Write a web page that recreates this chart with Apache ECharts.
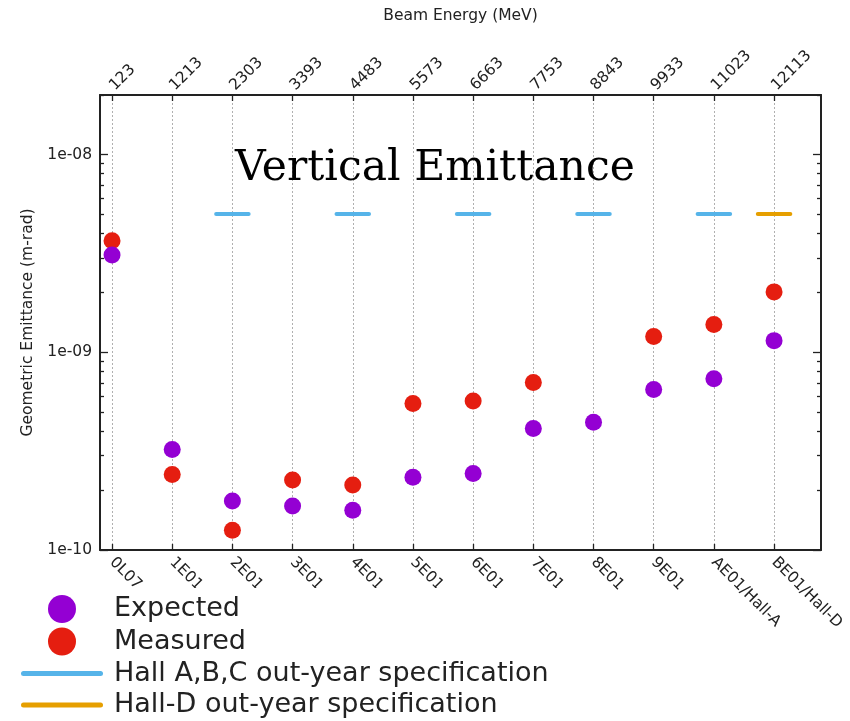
<!DOCTYPE html>
<html>
<head>
<meta charset="utf-8">
<title>Vertical Emittance</title>
<script src="https://cdn.jsdelivr.net/npm/echarts@6/dist/echarts.min.js"></script>
<style>
  html, body { margin: 0; padding: 0; background: #fff; }
  #chart { width: 850px; height: 721px; }
</style>
</head>
<body>
<div id="chart"></div>
<script>
// Stations along the machine (bottom axis) and the beam energy at each (top axis)
const stations = ['0L07', '1E01', '2E01', '3E01', '4E01', '5E01', '6E01', '7E01', '8E01', '9E01', 'AE01/Hall-A', 'BE01/Hall-D'];
const beamEnergyMeV = ['123', '1213', '2303', '3393', '4483', '5573', '6663', '7753', '8843', '9933', '11023', '12113'];

// Geometric emittance (m-rad) per station
const expected = [3.10e-9, 3.22e-10, 1.77e-10, 1.67e-10, 1.59e-10, 2.33e-10, 2.44e-10, 4.12e-10, 4.43e-10, 6.49e-10, 7.34e-10, 1.145e-9];
const measured = [3.66e-9, 2.41e-10, 1.26e-10, 2.26e-10, 2.13e-10, 5.50e-10, 5.67e-10, 7.04e-10, null, 1.20e-9, 1.38e-9, 2.02e-9];

// Out-year specification levels, drawn at the hall extraction stations
const specHallABCStations = [2, 4, 6, 8, 10];
const specHallABCValue = 5e-9;
const specHallDStations = [11];
const specHallDValue = 5e-9;

// Log-axis tick values
const yMajorTicks = [1e-10, 1e-9, 1e-8];
const yMinorTicks = [2e-10, 3e-10, 4e-10, 5e-10, 6e-10, 7e-10, 8e-10, 9e-10,
                     2e-9, 3e-9, 4e-9, 5e-9, 6e-9, 7e-9, 8e-9, 9e-9, 2e-8];

const stationIdx = stations.map((_, i) => i);

const INK = '#222';
const FONT = 'DejaVu Sans';
const COLORS = {
  expected: '#9400d3',
  measured: '#e51e10',
  hallABC: '#56b4e9',
  hallD: '#e69f00'
};

function sciLabel(v) {
  const e = Math.round(Math.log10(v));
  const s = String(Math.abs(e)).padStart(2, '0');
  return '1e' + (e < 0 ? '-' : '+') + s;
}

const xBase = {
  type: 'value', min: -0.2, max: 11.78, gridIndex: 0,
  axisLine: { show: true, onZero: false, lineStyle: { color: INK, width: 2 } },
  axisTick: { show: true, inside: true, length: 6, customValues: stationIdx, lineStyle: { color: INK, width: 1.3 } },
  splitLine: { show: false }
};

const yBase = {
  type: 'log', logBase: 10, min: 1e-10, max: 2e-8,
  splitLine: { show: false },
  minorTick: { show: false }
};

// Short horizontal spec segment centred on a station
function specRenderer(params, api) {
  const c = api.value(0);
  const v = api.value(1);
  const p1 = api.coord([c - 0.27, v]);
  const p2 = api.coord([c + 0.27, v]);
  return {
    type: 'line',
    shape: { x1: p1[0], y1: p1[1], x2: p2[0], y2: p2[1] },
    style: { stroke: api.visual('color'), lineWidth: 4, lineCap: 'round' }
  };
}

const linePath = 'path://M2.5,0 H79.5 A2.5,2.5 0 0 1 79.5,5 H2.5 A2.5,2.5 0 0 1 2.5,0 Z';

const option = {
  animation: false,
  backgroundColor: '#fff',
  textStyle: { fontFamily: FONT },
  title: {
    text: 'Vertical Emittance',
    left: 235, top: 147, padding: 0,
    textStyle: { fontFamily: 'DejaVu Serif', fontSize: 42.5, fontWeight: 'normal', color: '#000' }
  },
  legend: {
    orient: 'vertical',
    left: 0, top: 588,
    padding: [7, 10, 3, 21],
    backgroundColor: '#fff',
    itemWidth: 82, itemHeight: 28, itemGap: 4.5,
    selectedMode: false,
    textStyle: { fontFamily: FONT, fontSize: 27, color: INK, padding: [0, 0, 0, 6] },
    data: [
      { name: 'Expected', icon: 'circle' },
      { name: 'Measured', icon: 'circle' },
      { name: 'Hall A,B,C out-year specification', icon: linePath },
      { name: 'Hall-D out-year specification', icon: linePath }
    ]
  },
  grid: [
    { left: 100, right: 29, top: 95, bottom: 171 },
    { left: 100, right: 29, top: 95, bottom: 171 }
  ],
  xAxis: [
    {
      ...xBase, position: 'bottom',
      axisLabel: {
        customValues: stationIdx, rotate: -45, margin: 10,
        fontSize: 15.5, color: INK,
        formatter: v => stations[Math.round(v)]
      },
      splitLine: { show: true, lineStyle: { color: '#b0b0b0', width: 1, type: [2, 2] } }
    },
    {
      ...xBase, position: 'top',
      name: 'Beam Energy (MeV)', nameLocation: 'middle', nameGap: 71,
      nameTextStyle: { fontSize: 15.5, color: INK },
      axisLabel: {
        customValues: stationIdx, rotate: -45, margin: 7,
        fontSize: 15.5, color: INK,
        formatter: v => beamEnergyMeV[Math.round(v)]
      }
    },
    { type: 'value', min: -0.2, max: 11.78, gridIndex: 1, show: false }
  ],
  yAxis: [
    {
      ...yBase, gridIndex: 0, position: 'left',
      name: 'Geometric Emittance (m-rad)', nameLocation: 'middle', nameGap: 64, nameRotate: 90,
      nameTextStyle: { fontSize: 15.5, color: INK },
      axisLine: { show: true, onZero: false, lineStyle: { color: INK, width: 2 } },
      axisTick: { show: true, inside: true, length: 8, customValues: yMajorTicks, lineStyle: { color: INK, width: 1.3 } },
      axisLabel: { customValues: yMajorTicks, margin: 8, fontSize: 15.5, color: INK, formatter: sciLabel }
    },
    {
      ...yBase, gridIndex: 0, position: 'right',
      axisLine: { show: true, onZero: false, lineStyle: { color: INK, width: 2 } },
      axisTick: { show: true, inside: true, length: 8, customValues: yMajorTicks, lineStyle: { color: INK, width: 1.3 } },
      axisLabel: { show: false }
    },
    {
      ...yBase, gridIndex: 1, position: 'left',
      axisLine: { show: false, onZero: false },
      axisTick: { show: true, inside: true, length: 4, customValues: yMinorTicks, lineStyle: { color: INK, width: 1.3 } },
      axisLabel: { show: false }
    },
    {
      ...yBase, gridIndex: 1, position: 'right',
      axisLine: { show: false, onZero: false },
      axisTick: { show: true, inside: true, length: 4, customValues: yMinorTicks, lineStyle: { color: INK, width: 1.3 } },
      axisLabel: { show: false }
    }
  ],
  series: [
    {
      name: 'Hall A,B,C out-year specification',
      type: 'custom', xAxisIndex: 0, yAxisIndex: 0, z: 2,
      itemStyle: { color: COLORS.hallABC },
      renderItem: specRenderer,
      data: specHallABCStations.map(i => [i, specHallABCValue])
    },
    {
      name: 'Hall-D out-year specification',
      type: 'custom', xAxisIndex: 0, yAxisIndex: 0, z: 2,
      itemStyle: { color: COLORS.hallD },
      renderItem: specRenderer,
      data: specHallDStations.map(i => [i, specHallDValue])
    },
    {
      name: 'Measured',
      type: 'scatter', xAxisIndex: 0, yAxisIndex: 0, z: 3,
      symbol: 'circle', symbolSize: 17,
      itemStyle: { color: COLORS.measured, opacity: 1 },
      data: measured.map((v, i) => (v == null ? [i, '-'] : [i, v]))
    },
    {
      name: 'Expected',
      type: 'scatter', xAxisIndex: 0, yAxisIndex: 0, z: 4,
      symbol: 'circle', symbolSize: 17,
      itemStyle: { color: COLORS.expected, opacity: 1 },
      data: expected.map((v, i) => [i, v])
    }
  ]
};

const chart = echarts.init(document.getElementById('chart'), null, { renderer: 'canvas' });
chart.setOption(option);
</script>
</body>
</html>
